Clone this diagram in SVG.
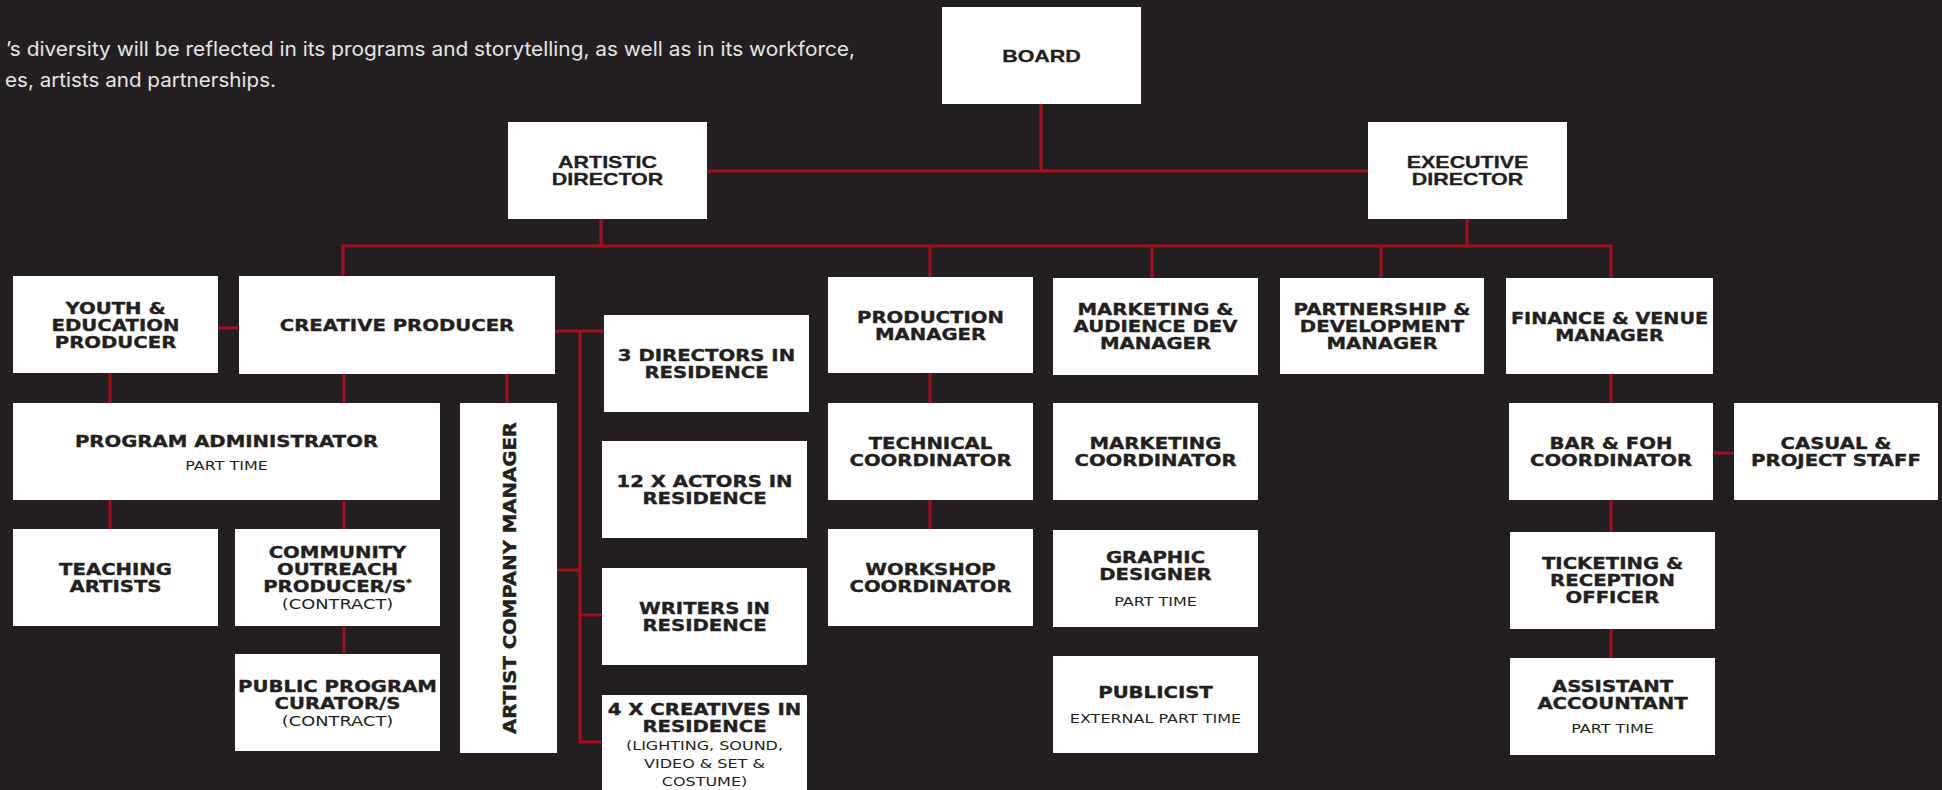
<svg xmlns="http://www.w3.org/2000/svg" width="1942" height="790" viewBox="0 0 1942 790">
<style>
.bg{fill:#231f20}
.box{fill:#ffffff}
.c{fill:none;stroke:#a50f1f;stroke-width:3}
.t{font-family:"DejaVu Sans","Liberation Sans",sans-serif;font-weight:bold;font-size:16px;fill:#231f20;stroke:#231f20;stroke-width:0.35;text-anchor:middle}
.s{font-family:"DejaVu Sans","Liberation Sans",sans-serif;font-weight:normal;font-size:13px;fill:#231f20;text-anchor:middle}
.k{font-size:14.5px}
.h{font-family:"Liberation Sans",Arial,sans-serif;font-weight:bold;font-size:16.5px;fill:#231f20;stroke:#231f20;stroke-width:0.3;text-anchor:middle}
.p{font-family:Inter,Roboto,"Liberation Sans",sans-serif;font-size:20px;fill:#e6e6e6}
</style>
<rect class="bg" x="0" y="0" width="1942" height="790"/>
<g id="intro">
<text class="p" x="6" y="56" textLength="849" lengthAdjust="spacingAndGlyphs">’s diversity will be reflected in its programs and storytelling, as well as in its workforce,</text>
<text class="p" x="5" y="87" textLength="271" lengthAdjust="spacingAndGlyphs">es, artists and partnerships.</text>
</g>
<g id="connectors">
<path class="c" d="M1041 104V171M707 171H1368"/>
<path class="c" d="M601 219V246M1467 219V246M343 277V246H1611V278M930 246V277M1152 246V278M1381 246V278"/>
<path class="c" d="M218 328H239M110 373V403M344 374V403M507 374V403M110 500V529M344 500V529M344 626V654"/>
<path class="c" d="M555 331H604M580 331V742H602M557 570H580M580 615H602"/>
<path class="c" d="M930 373V403M930 500V529"/>
<path class="c" d="M1611 374V403M1611 500V532M1611 629V658M1713 453H1734"/>
</g>
<g id="board"><rect class="box" x="942" y="7" width="199" height="97"/>
<g transform="translate(1041.5 0) scale(1.3 1)"><text class="h" x="0" y="62">BOARD</text></g></g>
<g id="artistic-director"><rect class="box" x="508" y="122" width="199" height="97"/>
<g transform="translate(607.5 0) scale(1.3 1)"><text class="h"><tspan x="0" y="168">ARTISTIC</tspan><tspan x="0" y="185">DIRECTOR</tspan></text></g></g>
<g id="executive-director"><rect class="box" x="1368" y="122" width="199" height="97"/>
<g transform="translate(1467.5 0) scale(1.3 1)"><text class="h"><tspan x="0" y="168">EXECUTIVE</tspan><tspan x="0" y="185">DIRECTOR</tspan></text></g></g>

<g id="youth-education-producer"><rect class="box" x="13" y="276" width="205" height="97"/>
<g transform="translate(115.5 0) scale(1.23 1)"><text class="t"><tspan x="0" y="314">YOUTH &amp;</tspan><tspan x="0" y="331">EDUCATION</tspan><tspan x="0" y="348">PRODUCER</tspan></text></g></g>
<g id="creative-producer"><rect class="box" x="239" y="276" width="316" height="98"/>
<g transform="translate(397 0) scale(1.23 1)"><text class="t" x="0" y="331">CREATIVE PRODUCER</text></g></g>
<g id="program-administrator"><rect class="box" x="13" y="403" width="427" height="97"/>
<g transform="translate(226.5 0) scale(1.23 1)"><text class="t" x="0" y="447">PROGRAM ADMINISTRATOR</text><text class="s" x="0" y="470">PART TIME</text></g></g>
<g id="teaching-artists"><rect class="box" x="13" y="529" width="205" height="97"/>
<g transform="translate(115.5 0) scale(1.23 1)"><text class="t"><tspan x="0" y="575">TEACHING</tspan><tspan x="0" y="592">ARTISTS</tspan></text></g></g>
<g id="community-outreach-producer"><rect class="box" x="235" y="529" width="205" height="97"/>
<g transform="translate(337.5 0) scale(1.23 1)"><text class="t"><tspan x="0" y="558">COMMUNITY</tspan><tspan x="0" y="575">OUTREACH</tspan><tspan x="0" y="592">PRODUCER/S<tspan font-size="9" dy="-6">*</tspan></tspan></text><text class="s k" x="0" y="609">(CONTRACT)</text></g></g>
<g id="public-program-curator"><rect class="box" x="235" y="654" width="205" height="97"/>
<g transform="translate(337.5 0) scale(1.23 1)"><text class="t"><tspan x="0" y="692">PUBLIC PROGRAM</tspan><tspan x="0" y="709">CURATOR/S</tspan></text><text class="s k" x="0" y="726">(CONTRACT)</text></g></g>
<g id="artist-company-manager"><rect class="box" x="460" y="403" width="97" height="350"/>
<g transform="translate(516 578) rotate(-90) scale(1.23 1.12)"><text class="t" x="0" y="0">ARTIST COMPANY MANAGER</text></g></g>
<g id="directors-in-residence"><rect class="box" x="604" y="315" width="205" height="97"/>
<g transform="translate(706.5 0) scale(1.23 1)"><text class="t"><tspan x="0" y="361">3 DIRECTORS IN</tspan><tspan x="0" y="378">RESIDENCE</tspan></text></g></g>
<g id="actors-in-residence"><rect class="box" x="602" y="441" width="205" height="97"/>
<g transform="translate(704.5 0) scale(1.23 1)"><text class="t"><tspan x="0" y="487">12 X ACTORS IN</tspan><tspan x="0" y="504">RESIDENCE</tspan></text></g></g>
<g id="writers-in-residence"><rect class="box" x="602" y="568" width="205" height="97"/>
<g transform="translate(704.5 0) scale(1.23 1)"><text class="t"><tspan x="0" y="614">WRITERS IN</tspan><tspan x="0" y="631">RESIDENCE</tspan></text></g></g>
<g id="creatives-in-residence"><rect class="box" x="602" y="695" width="205" height="105"/>
<g transform="translate(704.5 0) scale(1.23 1)"><text class="t"><tspan x="0" y="715">4 X CREATIVES IN</tspan><tspan x="0" y="732">RESIDENCE</tspan></text><text class="s" font-size="14"><tspan x="0" y="750">(LIGHTING, SOUND,</tspan><tspan x="0" y="768">VIDEO &amp; SET &amp;</tspan><tspan x="0" y="786">COSTUME)</tspan></text></g></g>

<g id="production-manager"><rect class="box" x="828" y="277" width="205" height="96"/>
<g transform="translate(930.5 0) scale(1.23 1)"><text class="t"><tspan x="0" y="323">PRODUCTION</tspan><tspan x="0" y="340">MANAGER</tspan></text></g></g>
<g id="technical-coordinator"><rect class="box" x="828" y="403" width="205" height="97"/>
<g transform="translate(930.5 0) scale(1.23 1)"><text class="t"><tspan x="0" y="449">TECHNICAL</tspan><tspan x="0" y="466">COORDINATOR</tspan></text></g></g>
<g id="workshop-coordinator"><rect class="box" x="828" y="529" width="205" height="97"/>
<g transform="translate(930.5 0) scale(1.23 1)"><text class="t"><tspan x="0" y="575">WORKSHOP</tspan><tspan x="0" y="592">COORDINATOR</tspan></text></g></g>
<g id="marketing-audience-dev-manager"><rect class="box" x="1053" y="278" width="205" height="97"/>
<g transform="translate(1155.5 0) scale(1.23 1)"><text class="t"><tspan x="0" y="315">MARKETING &amp;</tspan><tspan x="0" y="332">AUDIENCE DEV</tspan><tspan x="0" y="349">MANAGER</tspan></text></g></g>
<g id="marketing-coordinator"><rect class="box" x="1053" y="403" width="205" height="97"/>
<g transform="translate(1155.5 0) scale(1.23 1)"><text class="t"><tspan x="0" y="449">MARKETING</tspan><tspan x="0" y="466">COORDINATOR</tspan></text></g></g>
<g id="graphic-designer"><rect class="box" x="1053" y="530" width="205" height="97"/>
<g transform="translate(1155.5 0) scale(1.23 1)"><text class="t"><tspan x="0" y="563">GRAPHIC</tspan><tspan x="0" y="580">DESIGNER</tspan></text><text class="s" x="0" y="606">PART TIME</text></g></g>
<g id="publicist"><rect class="box" x="1053" y="656" width="205" height="97"/>
<g transform="translate(1155.5 0) scale(1.23 1)"><text class="t" x="0" y="698">PUBLICIST</text><text class="s" x="0" y="723.5">EXTERNAL PART TIME</text></g></g>
<g id="partnership-development-manager"><rect class="box" x="1280" y="278" width="204" height="96"/>
<g transform="translate(1382 0) scale(1.23 1)"><text class="t"><tspan x="0" y="315">PARTNERSHIP &amp;</tspan><tspan x="0" y="332">DEVELOPMENT</tspan><tspan x="0" y="349">MANAGER</tspan></text></g></g>
<g id="finance-venue-manager"><rect class="box" x="1506" y="278" width="207" height="96"/>
<g transform="translate(1609.5 0) scale(1.2 1)"><text class="t"><tspan x="0" y="324">FINANCE &amp; VENUE</tspan><tspan x="0" y="341">MANAGER</tspan></text></g></g>
<g id="bar-foh-coordinator"><rect class="box" x="1509" y="403" width="204" height="97"/>
<g transform="translate(1611 0) scale(1.23 1)"><text class="t"><tspan x="0" y="449">BAR &amp; FOH</tspan><tspan x="0" y="466">COORDINATOR</tspan></text></g></g>
<g id="casual-project-staff"><rect class="box" x="1734" y="403" width="204" height="97"/>
<g transform="translate(1836 0) scale(1.23 1)"><text class="t"><tspan x="0" y="449">CASUAL &amp;</tspan><tspan x="0" y="466">PROJECT STAFF</tspan></text></g></g>
<g id="ticketing-reception-officer"><rect class="box" x="1510" y="532" width="205" height="97"/>
<g transform="translate(1612.5 0) scale(1.23 1)"><text class="t"><tspan x="0" y="569">TICKETING &amp;</tspan><tspan x="0" y="586">RECEPTION</tspan><tspan x="0" y="603">OFFICER</tspan></text></g></g>
<g id="assistant-accountant"><rect class="box" x="1510" y="658" width="205" height="97"/>
<g transform="translate(1612.5 0) scale(1.23 1)"><text class="t"><tspan x="0" y="692">ASSISTANT</tspan><tspan x="0" y="709">ACCOUNTANT</tspan></text><text class="s" x="0" y="733">PART TIME</text></g></g>
</svg>
